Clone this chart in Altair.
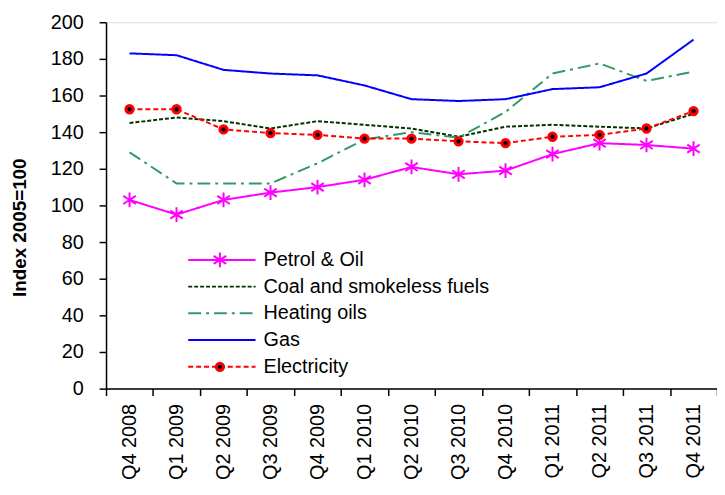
import altair as alt
import pandas as pd

quarters = ["Q4 2008", "Q1 2009", "Q2 2009", "Q3 2009", "Q4 2009", "Q1 2010", "Q2 2010",
            "Q3 2010", "Q4 2010", "Q1 2011", "Q2 2011", "Q3 2011", "Q4 2011"]
petrol = [103, 95, 103, 107, 110, 114, 121, 117, 119, 128, 134, 133, 131]
coal = [145, 148, 146, 142, 146, 144, 142, 137.5, 143, 144, 143, 142, 150]
heating = [129, 112, 112, 112, 123, 136, 140, 137, 151, 172, 177.5, 168, 173]
gas = [183, 182, 174, 172, 171, 165.5, 158, 157, 158, 163.5, 164.5, 172, 190.5]
electricity = [152.5, 152.5, 141.5, 139.5, 138.5, 136.5, 136.5, 135, 134, 137.5, 138.5, 142, 151.5]

series_names = ["Petrol & Oil", "Coal and smokeless fuels", "Heating oils", "Gas", "Electricity"]
series_values = [petrol, coal, heating, gas, electricity]
y_ticks = [0, 20, 40, 60, 80, 100, 120, 140, 160, 180, 200]

colors = ["#FF00FF", "#003300", "#339966", "#0000FF", "#FF0000"]
dashes = [[1, 0], [4, 2], [13, 5, 3, 5], [1, 0], [5, 3]]
FONT = "Liberation Sans"
ASTERISK = "M0,-1L0,1M-0.85,-0.55L0.85,0.55M-0.85,0.55L0.85,-0.55"

rows = []
for name, vals in zip(series_names, series_values):
    for q, v in zip(quarters, vals):
        rows.append({"quarter": q, "series": name, "value": v})
df = pd.DataFrame(rows)
legend_df = pd.DataFrame({"series": series_names})

color_enc = alt.Color("series:N", scale=alt.Scale(domain=series_names, range=colors), legend=None)
dash_enc = alt.StrokeDash("series:N", scale=alt.Scale(domain=series_names, range=dashes), legend=None)

x_enc = alt.X("quarter:N", sort=quarters,
              scale=alt.Scale(domain=quarters, paddingInner=0, paddingOuter=0),
              axis=alt.Axis(title=None, labelAngle=270, tickBand="extent", labelFontSize=20,
                            labelFont=FONT, labelColor="black", domainColor="black",
                            domainWidth=1.5, tickColor="black", tickWidth=1.5, tickSize=7,
                            labelPadding=8, grid=False, labelAlign="right",
                            labelBaseline="middle"))
y_enc = alt.Y("value:Q", scale=alt.Scale(domain=[0, 200], nice=False, zero=True),
              axis=alt.Axis(values=y_ticks, title="Index 2005=100", labelFontSize=20,
                            labelFont=FONT, labelColor="black", domainColor="black",
                            domainWidth=1.5, tickColor="black", tickWidth=1.5, tickSize=7,
                            labelPadding=16, grid=False, titleFont=FONT, titleFontSize=19,
                            titleFontWeight="bold", titleColor="black", titleAngle=270,
                            titleX=-87, titleY=207, titleAlign="center",
                            titleBaseline="middle"))

base = alt.Chart(df).encode(x=x_enc, y=y_enc)
lines = base.mark_line(strokeWidth=2).encode(color=color_enc, strokeDash=dash_enc)
petrol_pts = base.transform_filter(alt.datum.series == "Petrol & Oil").mark_point(
    shape=ASTERISK, size=220, strokeWidth=2, color="#FF00FF", filled=False, opacity=1)
elec_pts = base.transform_filter(alt.datum.series == "Electricity").mark_point(
    shape="circle", size=55, filled=True, fill="black", stroke="#FF0000", strokeWidth=3, opacity=1)

leg_y = alt.Y("series:N", scale=alt.Scale(type="point", domain=series_names, range=[240, 348], padding=0),
              axis=None)
leg_base = alt.Chart(legend_df).encode(y=leg_y)
leg_lines = leg_base.mark_rule(strokeWidth=2).encode(
    x=alt.value(83), x2=alt.value(151), color=color_enc, strokeDash=dash_enc)
leg_petrol = leg_base.transform_filter(alt.datum.series == "Petrol & Oil").mark_point(
    shape=ASTERISK, size=220, strokeWidth=2, color="#FF00FF", filled=False, opacity=1
).encode(x=alt.value(115))
leg_elec = leg_base.transform_filter(alt.datum.series == "Electricity").mark_point(
    shape="circle", size=55, filled=True, fill="black", stroke="#FF0000", strokeWidth=3, opacity=1
).encode(x=alt.value(115))
leg_text = leg_base.mark_text(align="left", baseline="middle", fontSize=20, font=FONT, color="black").encode(
    x=alt.value(159), text="series:N")

data_layer = alt.layer(lines, petrol_pts, elec_pts)
legend_layer = alt.layer(leg_lines, leg_petrol, leg_elec, leg_text)

chart = alt.layer(data_layer, legend_layer).resolve_scale(y="independent").properties(
    width=617, height=370,
    autosize=alt.AutoSizeParams(type="none"),
    padding={"left": 99, "top": 12, "right": 0, "bottom": 100},
).configure_view(stroke=None).configure(background="white")

chart.save("out.html", embed_options={"renderer": "svg", "actions": False})
